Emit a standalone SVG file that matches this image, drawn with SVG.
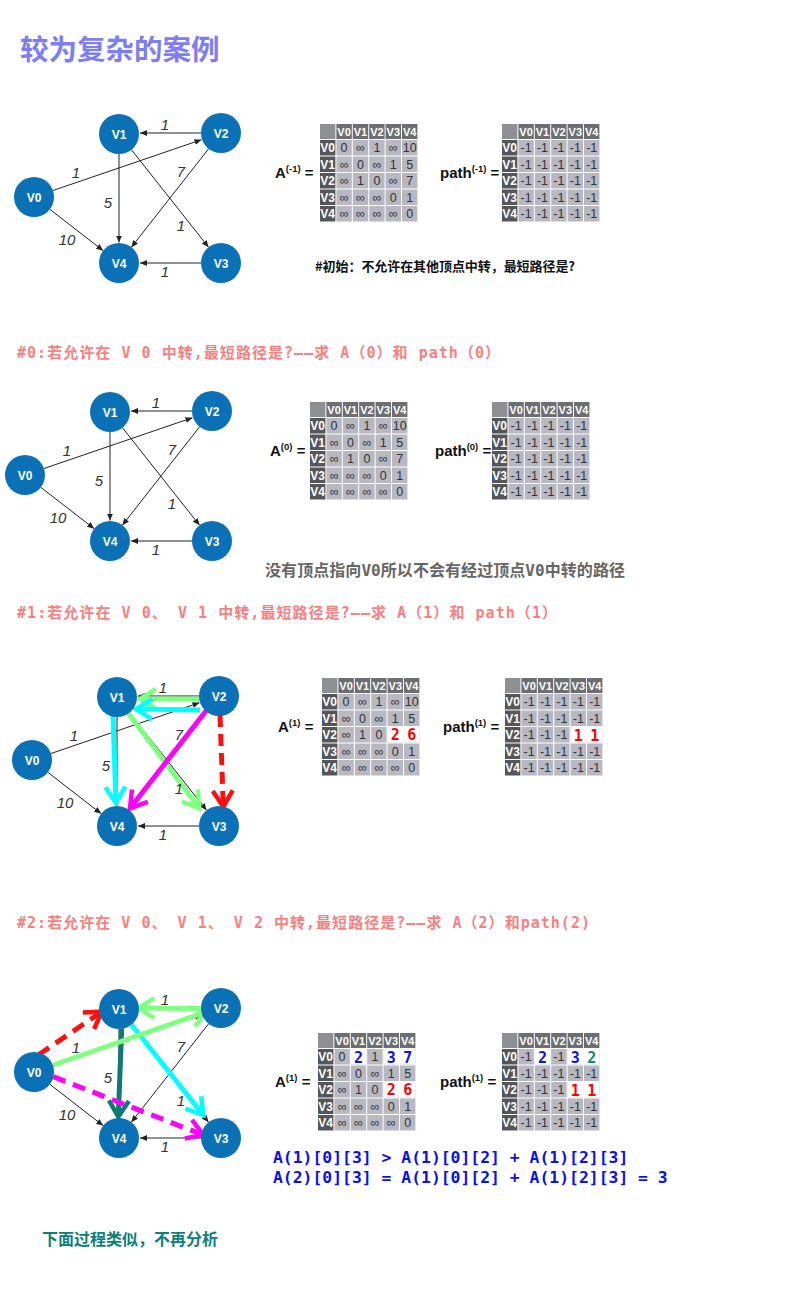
<svg xmlns="http://www.w3.org/2000/svg" width="789" height="1311" viewBox="0 0 789 1311">
<style>
.bg{fill:#fff}
.n circle{fill:#0b71b6}
.n text{font-family:"Liberation Sans",Arial,sans-serif;font-weight:bold;font-size:12px;fill:#fff;text-anchor:middle}
.e{stroke:#222;stroke-width:1;fill:none;marker-end:url(#ah)}
.el{font-family:"Liberation Sans",Arial,sans-serif;font-style:italic;font-size:15px;fill:#333;text-anchor:middle}
.ce{fill:none;stroke-width:5}
.tl{font-family:"Liberation Sans",Arial,sans-serif;font-weight:bold;font-size:15px;fill:#111}
.sup{font-size:9.5px}
.cn{fill:#8e8f93}.ch{fill:#6d6e72}.rh{fill:#55565a}.dc{fill:#b8b8c2}
.hd{font-family:"Liberation Sans",Arial,sans-serif;font-weight:bold;font-size:11px;fill:#fff;text-anchor:middle}
.rd{font-family:"Liberation Sans",Arial,sans-serif;font-weight:bold;font-size:12px;fill:#fff;text-anchor:middle}
.v{font-family:"Liberation Sans",Arial,sans-serif;font-size:12.5px;fill:#333;text-anchor:middle}
.hl{fill:#fff}
.big{font-family:"DejaVu Sans Mono",monospace;font-weight:bold;font-size:15px;text-anchor:middle}
.red{fill:#ff0000}.blue{fill:#0a14e6}.teal{fill:#14857c}
.hdg{font-family:"DejaVu Sans Mono","Noto Sans CJK SC",monospace;font-weight:bold;font-size:15px;fill:#fb7f7f}
.f{font-family:"DejaVu Sans Mono",monospace;font-weight:bold;font-size:16.4px;fill:#0c10ea}
</style>
<defs>
<marker id="ah" markerUnits="userSpaceOnUse" markerWidth="7" markerHeight="6" refX="7" refY="3" orient="auto"><path d="M0,0 L7,3 L0,6 z" fill="#222"/></marker>
<marker id="cg" markerUnits="userSpaceOnUse" viewBox="-22 -14 26 28" markerWidth="26" markerHeight="28" refX="0" refY="0" orient="auto"><path d="M-16,-10 L0,0 L-16,10" fill="none" stroke="#80ff80" stroke-width="4.5"/></marker>
<marker id="cc" markerUnits="userSpaceOnUse" viewBox="-22 -14 26 28" markerWidth="26" markerHeight="28" refX="0" refY="0" orient="auto"><path d="M-16,-10 L0,0 L-16,10" fill="none" stroke="#00ffff" stroke-width="4.5"/></marker>
<marker id="cm" markerUnits="userSpaceOnUse" viewBox="-22 -14 26 28" markerWidth="26" markerHeight="28" refX="0" refY="0" orient="auto"><path d="M-16,-10 L0,0 L-16,10" fill="none" stroke="#ff00ff" stroke-width="4.5"/></marker>
<marker id="cr" markerUnits="userSpaceOnUse" viewBox="-22 -14 26 28" markerWidth="26" markerHeight="28" refX="0" refY="0" orient="auto"><path d="M-16,-10 L0,0 L-16,10" fill="none" stroke="#ff1010" stroke-width="4.5"/></marker>
<marker id="ct" markerUnits="userSpaceOnUse" viewBox="-22 -14 26 28" markerWidth="26" markerHeight="28" refX="0" refY="0" orient="auto"><path d="M-16,-10 L0,0 L-16,10" fill="none" stroke="#0f7a75" stroke-width="4.5"/></marker>
<g id="grid">
<rect class="cn" x="0" y="0" width="15.4" height="15"/>
<rect class="ch" x="16.4" y="0" width="15.4" height="15"/><rect class="ch" x="32.8" y="0" width="15.4" height="15"/><rect class="ch" x="49.2" y="0" width="15.4" height="15"/><rect class="ch" x="65.6" y="0" width="15.4" height="15"/><rect class="ch" x="82" y="0" width="15.4" height="15"/>
<rect class="rh" x="0" y="16" width="15.4" height="15.5"/><rect class="rh" x="0" y="32.5" width="15.4" height="15.5"/><rect class="rh" x="0" y="49" width="15.4" height="15.5"/><rect class="rh" x="0" y="65.5" width="15.4" height="15.5"/><rect class="rh" x="0" y="82" width="15.4" height="15.5"/>
<g class="dc">
<rect x="16.4" y="16" width="15.4" height="15.5"/><rect x="32.8" y="16" width="15.4" height="15.5"/><rect x="49.2" y="16" width="15.4" height="15.5"/><rect x="65.6" y="16" width="15.4" height="15.5"/><rect x="82" y="16" width="15.4" height="15.5"/>
<rect x="16.4" y="32.5" width="15.4" height="15.5"/><rect x="32.8" y="32.5" width="15.4" height="15.5"/><rect x="49.2" y="32.5" width="15.4" height="15.5"/><rect x="65.6" y="32.5" width="15.4" height="15.5"/><rect x="82" y="32.5" width="15.4" height="15.5"/>
<rect x="16.4" y="49" width="15.4" height="15.5"/><rect x="32.8" y="49" width="15.4" height="15.5"/><rect x="49.2" y="49" width="15.4" height="15.5"/><rect x="65.6" y="49" width="15.4" height="15.5"/><rect x="82" y="49" width="15.4" height="15.5"/>
<rect x="16.4" y="65.5" width="15.4" height="15.5"/><rect x="32.8" y="65.5" width="15.4" height="15.5"/><rect x="49.2" y="65.5" width="15.4" height="15.5"/><rect x="65.6" y="65.5" width="15.4" height="15.5"/><rect x="82" y="65.5" width="15.4" height="15.5"/>
<rect x="16.4" y="82" width="15.4" height="15.5"/><rect x="32.8" y="82" width="15.4" height="15.5"/><rect x="49.2" y="82" width="15.4" height="15.5"/><rect x="65.6" y="82" width="15.4" height="15.5"/><rect x="82" y="82" width="15.4" height="15.5"/>
</g>
<text class="hd" x="24.1" y="11.5">V0</text><text class="hd" x="40.5" y="11.5">V1</text><text class="hd" x="56.9" y="11.5">V2</text><text class="hd" x="73.3" y="11.5">V3</text><text class="hd" x="89.7" y="11.5">V4</text>
<text class="rd" x="7.7" y="28.3">V0</text><text class="rd" x="7.7" y="44.8">V1</text><text class="rd" x="7.7" y="61.3">V2</text><text class="rd" x="7.7" y="77.8">V3</text><text class="rd" x="7.7" y="94.3">V4</text>
</g>
<g id="aval" class="v">
<text x="24.1" y="28.3">0</text><text x="40.5" y="28.3">∞</text><text x="56.9" y="28.3">1</text><text x="73.3" y="28.3">∞</text><text x="89.7" y="28.3">10</text>
<text x="24.1" y="44.8">∞</text><text x="40.5" y="44.8">0</text><text x="56.9" y="44.8">∞</text><text x="73.3" y="44.8">1</text><text x="89.7" y="44.8">5</text>
<text x="24.1" y="61.3">∞</text><text x="40.5" y="61.3">1</text><text x="56.9" y="61.3">0</text><text x="73.3" y="61.3">∞</text><text x="89.7" y="61.3">7</text>
<text x="24.1" y="77.8">∞</text><text x="40.5" y="77.8">∞</text><text x="56.9" y="77.8">∞</text><text x="73.3" y="77.8">0</text><text x="89.7" y="77.8">1</text>
<text x="24.1" y="94.3">∞</text><text x="40.5" y="94.3">∞</text><text x="56.9" y="94.3">∞</text><text x="73.3" y="94.3">∞</text><text x="89.7" y="94.3">0</text>
</g>
<g id="pval" class="v">
<text x="24.1" y="28.3">-1</text><text x="40.5" y="28.3">-1</text><text x="56.9" y="28.3">-1</text><text x="73.3" y="28.3">-1</text><text x="89.7" y="28.3">-1</text>
<text x="24.1" y="44.8">-1</text><text x="40.5" y="44.8">-1</text><text x="56.9" y="44.8">-1</text><text x="73.3" y="44.8">-1</text><text x="89.7" y="44.8">-1</text>
<text x="24.1" y="61.3">-1</text><text x="40.5" y="61.3">-1</text><text x="56.9" y="61.3">-1</text><text x="73.3" y="61.3">-1</text><text x="89.7" y="61.3">-1</text>
<text x="24.1" y="77.8">-1</text><text x="40.5" y="77.8">-1</text><text x="56.9" y="77.8">-1</text><text x="73.3" y="77.8">-1</text><text x="89.7" y="77.8">-1</text>
<text x="24.1" y="94.3">-1</text><text x="40.5" y="94.3">-1</text><text x="56.9" y="94.3">-1</text><text x="73.3" y="94.3">-1</text><text x="89.7" y="94.3">-1</text>
</g>
</defs>
<rect class="bg" x="0" y="0" width="789" height="1311"/>

<text x="20" y="60" font-family="'Noto Sans CJK SC',sans-serif" font-weight="bold" font-size="28.5" fill="#7d7df5">较为复杂的案例</text>

<!-- Graph 1 -->
<g id="graph1">
<g id="g1-edges">
<line class="e" x1="201" y1="133" x2="140" y2="133"/>
<line class="e" x1="53" y1="190.5" x2="201.5" y2="139.7"/>
<line class="e" x1="119" y1="154" x2="119" y2="242.5"/>
<line class="e" x1="208.7" y1="148.7" x2="131.3" y2="247.3"/>
<line class="e" x1="131.4" y1="149.7" x2="208.6" y2="247.3"/>
<line class="e" x1="49.8" y1="209.3" x2="103.2" y2="250.7"/>
<line class="e" x1="201" y1="263" x2="140" y2="263"/>
</g>
<g id="g1-v0" class="n"><circle cx="34" cy="197" r="20"/><text x="34" y="201.5">V0</text></g>
<g id="g1-v1" class="n"><circle cx="119" cy="134" r="20"/><text x="119" y="138.5">V1</text></g>
<g id="g1-v2" class="n"><circle cx="221" cy="133" r="20"/><text x="221" y="137.5">V2</text></g>
<g id="g1-v3" class="n"><circle cx="221" cy="263" r="20"/><text x="221" y="267.5">V3</text></g>
<g id="g1-v4" class="n"><circle cx="119" cy="263" r="20"/><text x="119" y="267.5">V4</text></g>
<g id="g1-labels" class="el">
<text x="165" y="130">1</text><text x="76" y="178">1</text><text x="108" y="208">5</text><text x="181" y="177">7</text><text x="181" y="231">1</text><text x="67" y="245">10</text><text x="165" y="277">1</text>
</g>
</g>

<g id="tA-1" transform="translate(320,124)"><use href="#grid"/><use href="#aval"/></g>
<g id="tP-1" transform="translate(502,124)"><use href="#grid"/><use href="#pval"/></g>
<text class="tl" x="275" y="178">A<tspan class="sup" dy="-6">(-1)</tspan><tspan dy="6"> =</tspan></text>
<text class="tl" x="440" y="178">path<tspan class="sup" dy="-6">(-1)</tspan><tspan dy="6"> =</tspan></text>
<text x="315" y="271" font-family="'Noto Sans CJK SC',sans-serif" font-weight="bold" font-size="13" fill="#111" textLength="260" lengthAdjust="spacing">#初始：不允许在其他顶点中转，最短路径是?</text>

<text class="hdg" x="17" y="358" textLength="483" lengthAdjust="spacing">#0:若允许在 V 0 中转,最短路径是?——求 A（0）和 path（0）</text>

<!-- Graph 2 -->
<g id="graph2" transform="translate(-9,278)">
<g id="g2-edges">
<line class="e" x1="201" y1="133" x2="140" y2="133"/>
<line class="e" x1="53" y1="190.5" x2="201.5" y2="139.7"/>
<line class="e" x1="119" y1="154" x2="119" y2="242.5"/>
<line class="e" x1="208.7" y1="148.7" x2="131.3" y2="247.3"/>
<line class="e" x1="131.4" y1="149.7" x2="208.6" y2="247.3"/>
<line class="e" x1="49.8" y1="209.3" x2="103.2" y2="250.7"/>
<line class="e" x1="201" y1="263" x2="140" y2="263"/>
</g>
<g id="g2-v0" class="n"><circle cx="34" cy="197" r="20"/><text x="34" y="201.5">V0</text></g>
<g id="g2-v1" class="n"><circle cx="119" cy="134" r="20"/><text x="119" y="138.5">V1</text></g>
<g id="g2-v2" class="n"><circle cx="221" cy="133" r="20"/><text x="221" y="137.5">V2</text></g>
<g id="g2-v3" class="n"><circle cx="221" cy="263" r="20"/><text x="221" y="267.5">V3</text></g>
<g id="g2-v4" class="n"><circle cx="119" cy="263" r="20"/><text x="119" y="267.5">V4</text></g>
<g id="g2-labels" class="el">
<text x="165" y="130">1</text><text x="76" y="178">1</text><text x="108" y="208">5</text><text x="181" y="177">7</text><text x="181" y="231">1</text><text x="67" y="245">10</text><text x="165" y="277">1</text>
</g>
</g>

<g id="tA0" transform="translate(310,402)"><use href="#grid"/><use href="#aval"/></g>
<g id="tP0" transform="translate(492,402)"><use href="#grid"/><use href="#pval"/></g>
<text class="tl" x="270" y="456">A<tspan class="sup" dy="-6">(0)</tspan><tspan dy="6"> =</tspan></text>
<text class="tl" x="435" y="456">path<tspan class="sup" dy="-6">(0)</tspan><tspan dy="6"> =</tspan></text>

<text x="265" y="576" font-family="'DejaVu Sans Mono','Noto Sans CJK SC',monospace" font-weight="bold" font-size="16" fill="#666" textLength="360" lengthAdjust="spacing">没有顶点指向V0所以不会有经过顶点V0中转的路径</text>

<text class="hdg" x="17" y="618" textLength="540" lengthAdjust="spacing">#1:若允许在 V 0、 V 1 中转,最短路径是?——求 A（1）和 path（1）</text>

<!-- Graph 3 -->
<g id="graph3" transform="translate(-2,563)">
<g id="g3-edges">
<line class="e" x1="201" y1="133" x2="140" y2="133"/>
<line class="e" x1="53" y1="190.5" x2="201.5" y2="139.7"/>
<line class="e" x1="119" y1="154" x2="119" y2="242.5"/>
<line class="e" x1="208.7" y1="148.7" x2="131.3" y2="247.3"/>
<line class="e" x1="131.4" y1="149.7" x2="208.6" y2="247.3"/>
<line class="e" x1="49.8" y1="209.3" x2="103.2" y2="250.7"/>
<line class="e" x1="201" y1="263" x2="140" y2="263"/>
<path class="ce" stroke="#80ff80" marker-end="url(#cg)" d="M203.7,136 L142,136"/>
<path class="ce" stroke="#00ffff" marker-end="url(#cc)" d="M202,147 L138,146"/>
<path class="ce" stroke="#00ffff" marker-end="url(#cc)" d="M115,152 L118,240"/>
<path class="ce" stroke="#80ff80" marker-end="url(#cg)" d="M130.3,150.3 L201.3,245.3"/>
<path class="ce" stroke="#ff00ff" marker-end="url(#cm)" d="M209.3,146.3 L132,245.3"/>
<path class="ce" stroke="#ff1010" stroke-dasharray="12 7" marker-end="url(#cr)" d="M222,152 L225.3,243.7"/>
</g>
<g id="g3-v0" class="n"><circle cx="34" cy="197" r="20"/><text x="34" y="201.5">V0</text></g>
<g id="g3-v1" class="n"><circle cx="119" cy="134" r="20"/><text x="119" y="138.5">V1</text></g>
<g id="g3-v2" class="n"><circle cx="221" cy="133" r="20"/><text x="221" y="137.5">V2</text></g>
<g id="g3-v3" class="n"><circle cx="221" cy="263" r="20"/><text x="221" y="267.5">V3</text></g>
<g id="g3-v4" class="n"><circle cx="119" cy="263" r="20"/><text x="119" y="267.5">V4</text></g>
<g id="g3-labels" class="el">
<text x="165" y="130">1</text><text x="76" y="178">1</text><text x="108" y="208">5</text><text x="181" y="177">7</text><text x="181" y="231">1</text><text x="67" y="245">10</text><text x="165" y="277">1</text>
</g>
</g>

<g id="tA1" transform="translate(322,678)"><use href="#grid"/><use href="#aval"/>
<rect class="hl" x="65.6" y="49" width="31.8" height="15.5"/>
<text class="big red" x="73.3" y="62">2</text><text class="big red" x="89.7" y="62">6</text></g>
<g id="tP1" transform="translate(505,678)"><use href="#grid"/><use href="#pval"/>
<rect class="hl" x="65.6" y="49" width="31.8" height="15.5"/>
<text class="big red" x="73.3" y="63">1</text><text class="big red" x="89.7" y="63">1</text></g>
<text class="tl" x="278" y="732">A<tspan class="sup" dy="-6">(1)</tspan><tspan dy="6"> =</tspan></text>
<text class="tl" x="443" y="732">path<tspan class="sup" dy="-6">(1)</tspan><tspan dy="6"> =</tspan></text>

<text class="hdg" x="17" y="928" textLength="573" lengthAdjust="spacing">#2:若允许在 V 0、 V 1、 V 2 中转,最短路径是?——求 A（2）和path(2)</text>

<!-- Graph 4 -->
<g id="graph4" transform="translate(0,875)">
<g id="g4-edges">
<line class="e" x1="201" y1="133" x2="140" y2="133"/>
<line class="e" x1="53" y1="190.5" x2="201.5" y2="139.7"/>
<line class="e" x1="119" y1="154" x2="119" y2="242.5"/>
<line class="e" x1="208.7" y1="148.7" x2="131.3" y2="247.3"/>
<line class="e" x1="131.4" y1="149.7" x2="208.6" y2="247.3"/>
<line class="e" x1="49.8" y1="209.3" x2="103.2" y2="250.7"/>
<line class="e" x1="201" y1="263" x2="140" y2="263"/>
<path class="ce" stroke="#0f7a75" marker-end="url(#ct)" d="M121.7,153.3 L118.3,241.7"/>
<path class="ce" stroke="#00ffff" marker-end="url(#cc)" d="M131.7,150 L203.3,240"/>
<path class="ce" stroke="#80ff80" marker-end="url(#cg)" d="M203.3,133.5 L138.3,133"/>
<path class="ce" stroke="#80ff80" marker-end="url(#cg)" d="M53.3,190 L206.7,136.7"/>
<path class="ce" stroke="#ff1010" stroke-dasharray="13 8" marker-end="url(#cr)" d="M38.3,180 L101.7,136.7"/>
<path class="ce" stroke="#ff00ff" stroke-dasharray="13 8" marker-end="url(#cm)" d="M53.3,201.7 L203.3,260"/>
</g>
<g id="g4-v0" class="n"><circle cx="34" cy="197" r="20"/><text x="34" y="201.5">V0</text></g>
<g id="g4-v1" class="n"><circle cx="119" cy="134" r="20"/><text x="119" y="138.5">V1</text></g>
<g id="g4-v2" class="n"><circle cx="221" cy="133" r="20"/><text x="221" y="137.5">V2</text></g>
<g id="g4-v3" class="n"><circle cx="221" cy="263" r="20"/><text x="221" y="267.5">V3</text></g>
<g id="g4-v4" class="n"><circle cx="119" cy="263" r="20"/><text x="119" y="267.5">V4</text></g>
<g id="g4-labels" class="el">
<text x="165" y="130">1</text><text x="76" y="178">1</text><text x="108" y="208">5</text><text x="181" y="177">7</text><text x="181" y="231">1</text><text x="67" y="245">10</text><text x="165" y="277">1</text>
</g>
</g>

<g id="tA2" transform="translate(318,1033)"><use href="#grid"/><use href="#aval"/>
<rect class="hl" x="32.8" y="16" width="15.4" height="15.5"/>
<rect class="hl" x="65.6" y="16" width="31.8" height="15.5"/>
<rect class="hl" x="65.6" y="49" width="31.8" height="15.5"/>
<text class="big blue" x="40.5" y="30">2</text><text class="big blue" x="73.3" y="30">3</text><text class="big blue" x="89.7" y="30">7</text>
<text class="big red" x="73.3" y="62">2</text><text class="big red" x="89.7" y="62">6</text></g>
<g id="tP2" transform="translate(502,1033)"><use href="#grid"/><use href="#pval"/>
<rect class="hl" x="32.8" y="16" width="15.4" height="15.5"/>
<rect class="hl" x="65.6" y="16" width="31.8" height="15.5"/>
<rect class="hl" x="65.6" y="49" width="31.8" height="15.5"/>
<text class="big blue" x="40.5" y="30">2</text><text class="big blue" x="73.3" y="30">3</text><text class="big teal" x="89.7" y="30">2</text>
<text class="big red" x="73.3" y="63">1</text><text class="big red" x="89.7" y="63">1</text></g>
<text class="tl" x="275" y="1087">A<tspan class="sup" dy="-6">(1)</tspan><tspan dy="6"> =</tspan></text>
<text class="tl" x="440" y="1087">path<tspan class="sup" dy="-6">(1)</tspan><tspan dy="6"> =</tspan></text>

<text class="f" x="273" y="1163">A(1)[0][3] &gt; A(1)[0][2] + A(1)[2][3]</text>
<text class="f" x="273" y="1183">A(2)[0][3] = A(1)[0][2] + A(1)[2][3] = 3</text>

<text x="42" y="1245" font-family="'Noto Sans CJK SC',sans-serif" font-weight="bold" font-size="16" fill="#0d7f78">下面过程类似，不再分析</text>
</svg>
